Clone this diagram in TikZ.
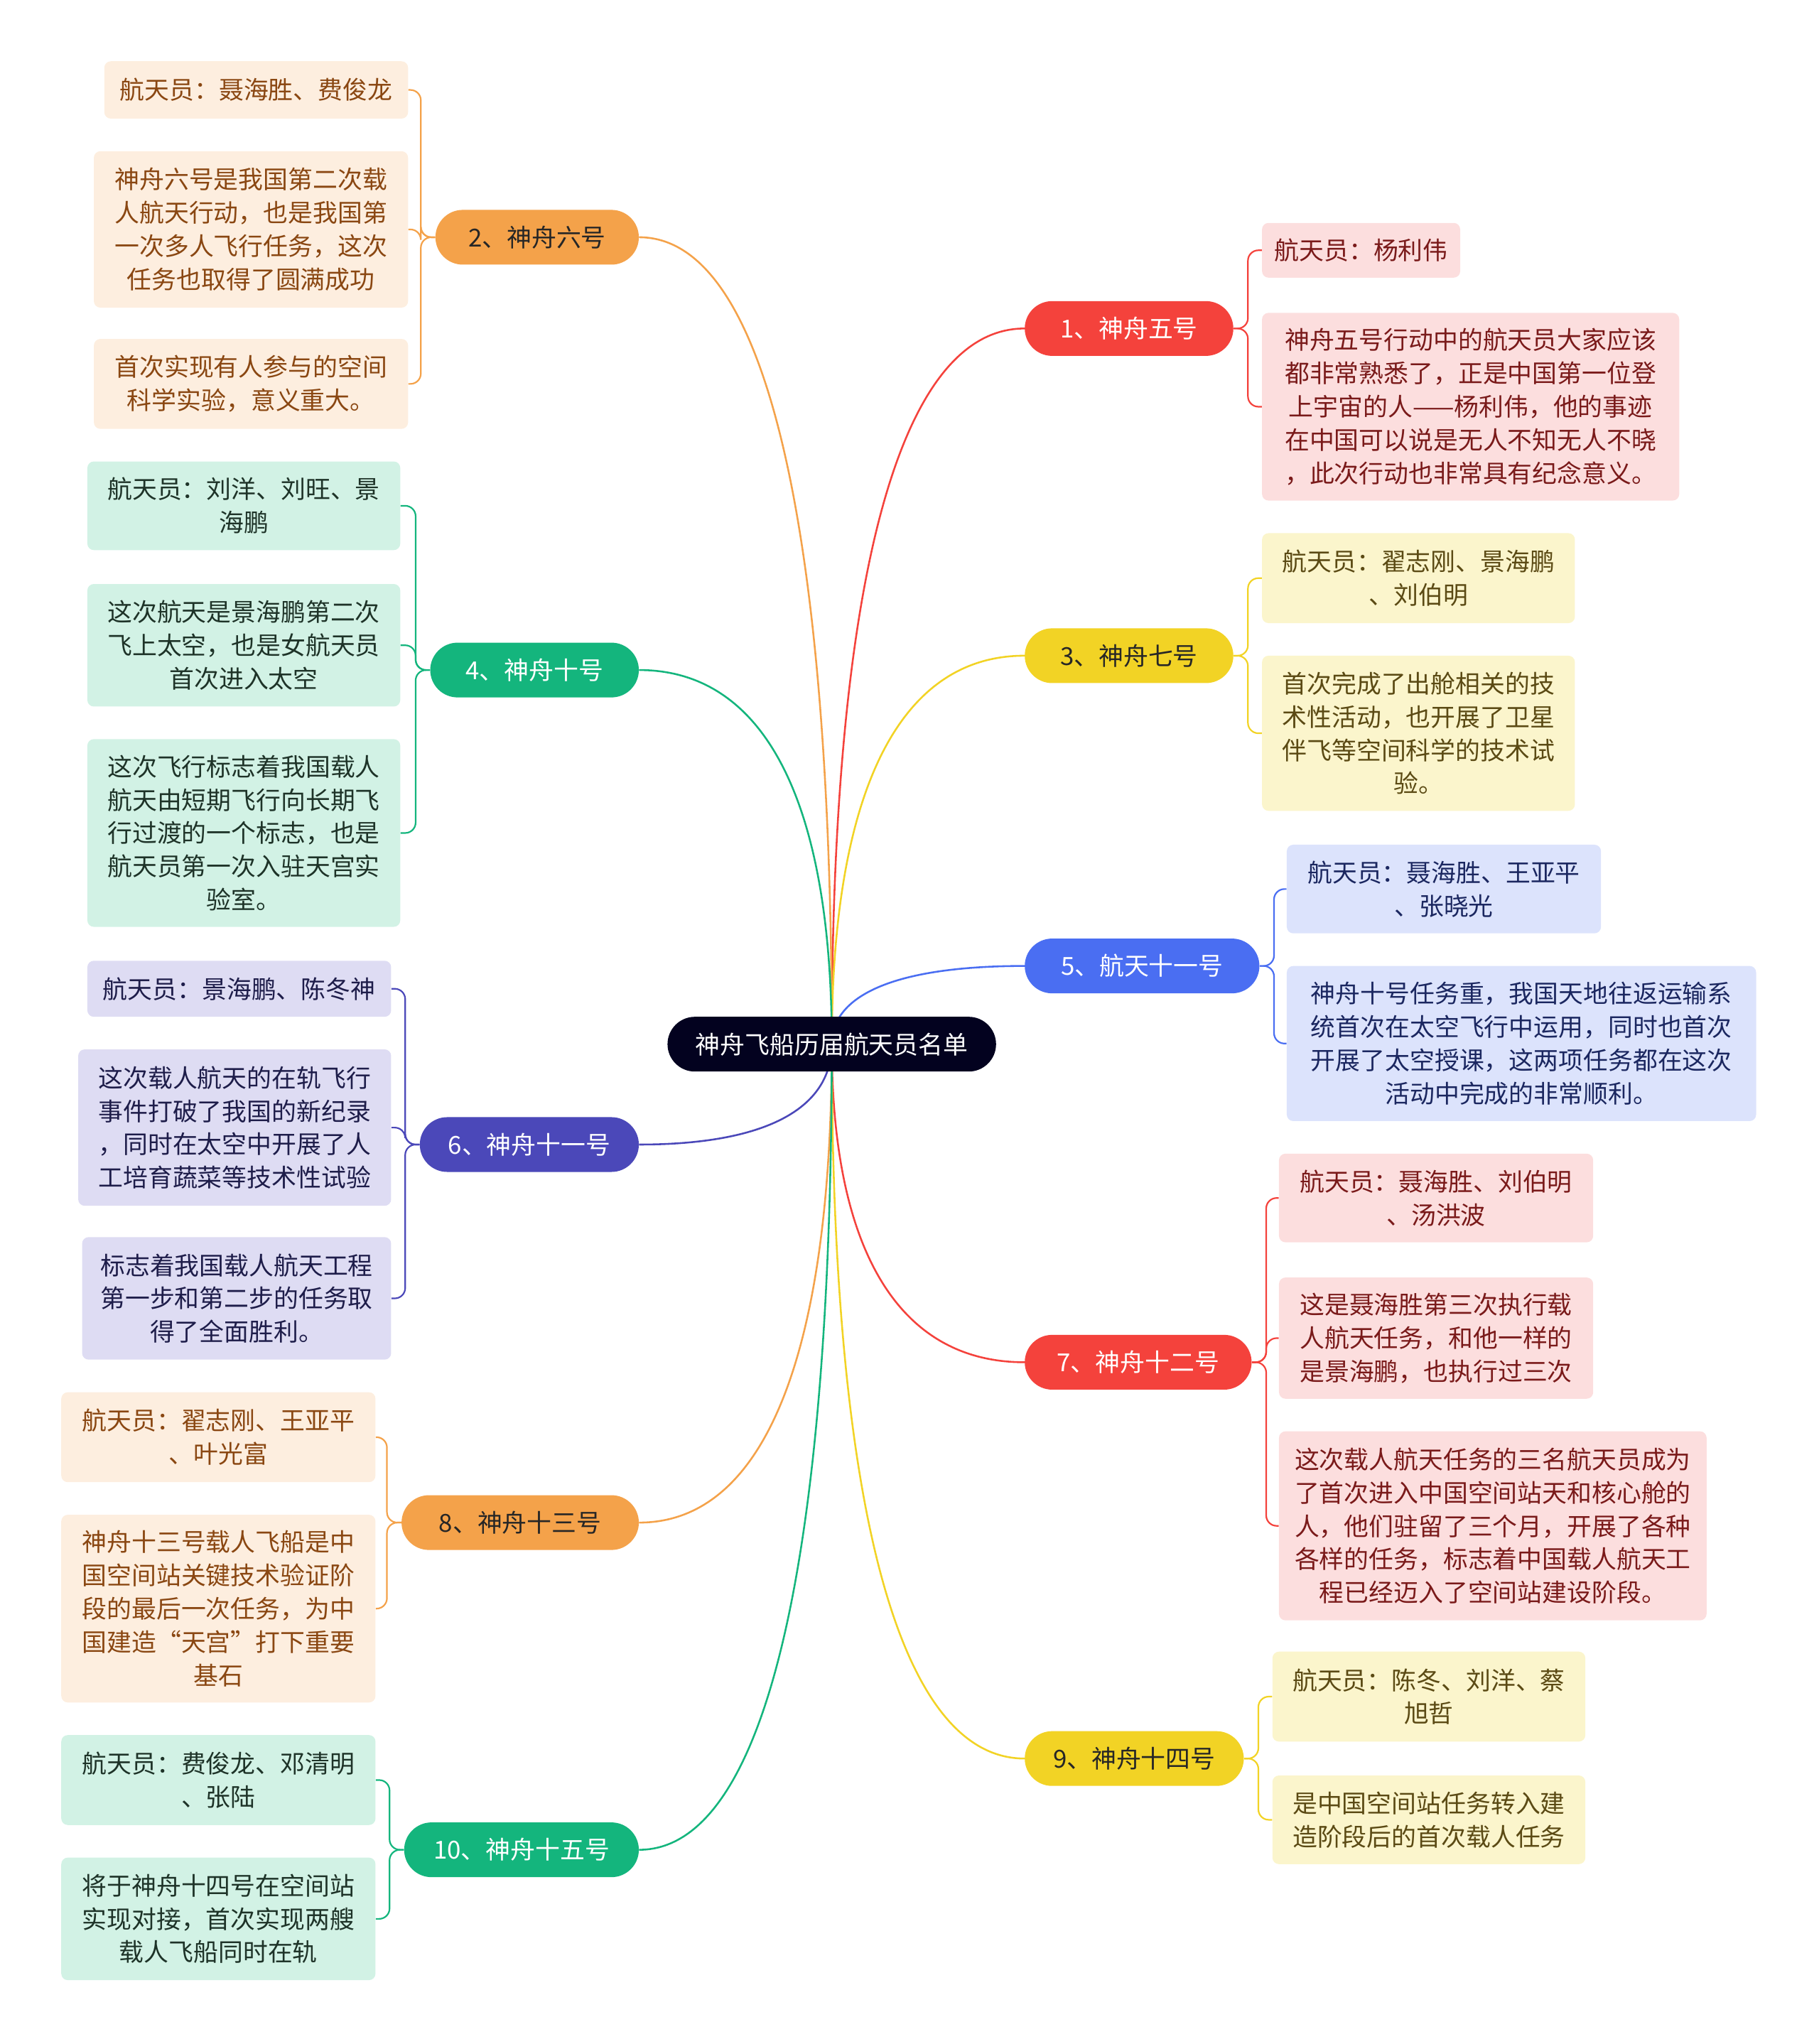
\documentclass[tikz,border=0pt]{standalone}
\usepackage{fontspec}
\setmainfont{Noto Sans CJK SC}
\usetikzlibrary{calc}
\usetikzlibrary{backgrounds}

\definecolor{croot}{HTML}{03021F}
\definecolor{cred}{HTML}{F4423C}
\definecolor{corange}{HTML}{F4A24A}
\definecolor{cgreen}{HTML}{14B57D}
\definecolor{cyellow}{HTML}{F2D325}
\definecolor{cblue}{HTML}{4A6EF2}
\definecolor{cindigo}{HTML}{4B48B9}
\definecolor{cdark}{HTML}{262626}

\begin{document}
\begin{tikzpicture}
[x=1pt,y=-1pt,%
  every node/.style={inner sep=0pt,font=\fontsize{19}{25.5}\selectfont},%
  main/.style={rounded corners=21pt,minimum height=42pt},%
  leaf/.style={rounded corners=5pt,align=center},%
  redleaf/.style={leaf,fill={rgb,255:red,252;green,222;blue,222},text={rgb,255:red,122;green,26;blue,26}},%
  orangeleaf/.style={leaf,fill={rgb,255:red,253;green,238;blue,223},text={rgb,255:red,138;green,71;blue,18}},%
  greenleaf/.style={leaf,fill={rgb,255:red,210;green,242;blue,229},text={rgb,255:red,30;green,51;blue,40}},%
  yellowleaf/.style={leaf,fill={rgb,255:red,251;green,245;blue,204},text={rgb,255:red,91;green,74;blue,20}},%
  blueleaf/.style={leaf,fill={rgb,255:red,220;green,227;blue,252},text={rgb,255:red,27;green,39;blue,96}},%
  indigoleaf/.style={leaf,fill={rgb,255:red,222;green,220;blue,243},text={rgb,255:red,30;green,29;blue,74}},%
  branch/.style={line width=1.4pt,to path={.. controls ($(\tikztostart)!0.65!(\tikztostart |- \tikztotarget)$) and ($(\tikztostart |- \tikztotarget)!0.35!(\tikztotarget)$) .. (\tikztotarget)}},%
  twig/.style={line width=1.2pt,rounded corners=8pt,to path={-- ([xshift=#1]\tikztostart) |- (\tikztotarget)}}]
\useasboundingbox (0,0) rectangle (1395,1568);

\node[main,fill=croot,text=white,minimum width=252pt] (root) at (638,801) {神舟飞船历届航天员名单};

\node[main,fill=cred,text=white,minimum width=160pt] (m1) at (866,252) {1、神舟五号};
\node[main,fill=corange,text=cdark,minimum width=156pt] (m2) at (412,182) {2、神舟六号};
\node[main,fill=cyellow,text=cdark,minimum width=160pt] (m3) at (866,503) {3、神舟七号};
\node[main,fill=cgreen,text=white,minimum width=160pt] (m4) at (410,514) {4、神舟十号};
\node[main,fill=cblue,text=white,minimum width=180pt] (m5) at (876,741) {5、航天十一号};
\node[main,fill=cindigo,text=white,minimum width=168pt] (m6) at (406,878) {6、神舟十一号};
\node[main,fill=cred,text=white,minimum width=174pt] (m7) at (873,1045) {7、神舟十二号};
\node[main,fill=corange,text=cdark,minimum width=182pt] (m8) at (399,1168) {8、神舟十三号};
\node[main,fill=cyellow,text=cdark,minimum width=168pt] (m9) at (870,1349) {9、神舟十四号};
\node[main,fill=cgreen,text=white,minimum width=180pt] (m10) at (400,1419) {10、神舟十五号};

\node[redleaf,minimum width=152pt,minimum height=42pt] (l1a) at (1044,192) {航天员：杨利伟};
\node[redleaf,minimum width=320pt,minimum height=144pt] (l1b) at (1128,312)
  {神舟五号行动中的航天员大家应该\\都非常熟悉了，正是中国第一位登\\上宇宙的人——杨利伟，他的事迹\\在中国可以说是无人不知无人不晓\\，此次行动也非常具有纪念意义。};

\node[orangeleaf,minimum width=233pt,minimum height=44pt] (l2a) at (196.5,69) {航天员：聂海胜、费俊龙};
\node[orangeleaf,minimum width=241pt,minimum height=120pt] (l2b) at (192.5,176)
  {神舟六号是我国第二次载\\人航天行动，也是我国第\\一次多人飞行任务，这次\\任务也取得了圆满成功};
\node[orangeleaf,minimum width=241pt,minimum height=69pt] (l2c) at (192.5,294.5)
  {首次实现有人参与的空间\\科学实验，意义重大。};

\node[yellowleaf,minimum width=240pt,minimum height=69pt] (l3a) at (1088,443.5) {航天员：翟志刚、景海鹏\\、刘伯明};
\node[yellowleaf,minimum width=240pt,minimum height=119pt] (l3b) at (1088,562.5)
  {首次完成了出舱相关的技\\术性活动，也开展了卫星\\伴飞等空间科学的技术试\\验。};

\node[greenleaf,minimum width=240pt,minimum height=68pt] (l4a) at (187,388) {航天员：刘洋、刘旺、景\\海鹏};
\node[greenleaf,minimum width=240pt,minimum height=94pt] (l4b) at (187,495)
  {这次航天是景海鹏第二次\\飞上太空，也是女航天员\\首次进入太空};
\node[greenleaf,minimum width=240pt,minimum height=144pt] (l4c) at (187,639)
  {这次飞行标志着我国载人\\航天由短期飞行向长期飞\\行过渡的一个标志，也是\\航天员第一次入驻天宫实\\验室。};

\node[blueleaf,minimum width=241pt,minimum height=68pt] (l5a) at (1107.5,682) {航天员：聂海胜、王亚平\\、张晓光};
\node[blueleaf,minimum width=360pt,minimum height=119pt] (l5b) at (1167,800.5)
  {神舟十号任务重，我国天地往返运输系\\统首次在太空飞行中运用，同时也首次\\开展了太空授课，这两项任务都在这次\\活动中完成的非常顺利。};

\node[indigoleaf,minimum width=233pt,minimum height=43pt] (l6a) at (183.5,758.5) {航天员：景海鹏、陈冬神};
\node[indigoleaf,minimum width=240pt,minimum height=120pt] (l6b) at (180,865)
  {这次载人航天的在轨飞行\\事件打破了我国的新纪录\\，同时在太空中开展了人\\工培育蔬菜等技术性试验};
\node[indigoleaf,minimum width=237pt,minimum height=94pt] (l6c) at (181.5,996)
  {标志着我国载人航天工程\\第一步和第二步的任务取\\得了全面胜利。};

\node[redleaf,minimum width=241pt,minimum height=68pt] (l7a) at (1101.5,919) {航天员：聂海胜、刘伯明\\、汤洪波};
\node[redleaf,minimum width=241pt,minimum height=93pt] (l7b) at (1101.5,1026.5)
  {这是聂海胜第三次执行载\\人航天任务，和他一样的\\是景海鹏，也执行过三次};
\node[redleaf,minimum width=328pt,minimum height=145pt] (l7c) at (1145,1170.5)
  {这次载人航天任务的三名航天员成为\\了首次进入中国空间站天和核心舱的\\人，他们驻留了三个月，开展了各种\\各样的任务，标志着中国载人航天工\\程已经迈入了空间站建设阶段。};

\node[orangeleaf,minimum width=241pt,minimum height=69pt] (l8a) at (167.5,1102.5) {航天员：翟志刚、王亚平\\、叶光富};
\node[orangeleaf,minimum width=241pt,minimum height=144pt] (l8b) at (167.5,1234)
  {神舟十三号载人飞船是中\\国空间站关键技术验证阶\\段的最后一次任务，为中\\国建造“天宫”打下重要\\基石};

\node[yellowleaf,minimum width=240pt,minimum height=69pt] (l9a) at (1096,1301.5) {航天员：陈冬、刘洋、蔡\\旭哲};
\node[yellowleaf,minimum width=240pt,minimum height=68pt] (l9b) at (1096,1396)
  {是中国空间站任务转入建\\造阶段后的首次载人任务};

\node[greenleaf,minimum width=241pt,minimum height=69pt] (l10a) at (167.5,1365.5) {航天员：费俊龙、邓清明\\、张陆};
\node[greenleaf,minimum width=241pt,minimum height=94pt] (l10b) at (167.5,1472)
  {将于神舟十四号在空间站\\实现对接，首次实现两艘\\载人飞船同时在轨};

\begin{pgfonlayer}{background}
\path
(root.center) edge[branch,cred] (m1.west)
(root.center) edge[branch,corange] (m2.east)
(root.center) edge[branch,cyellow] (m3.west)
(root.center) edge[branch,cgreen] (m4.east)
(root.center) edge[branch,cblue] (m5.west)
(root.center) edge[branch,cindigo] (m6.east)
(root.center) edge[branch,cred] (m7.west)
(root.center) edge[branch,corange] (m8.east)
(root.center) edge[branch,cyellow] (m9.west)
(root.center) edge[branch,cgreen] (m10.east);
\path
(m1.east) edge[twig=11pt,cred] (l1a.west) edge[twig=11pt,cred] (l1b.west)
(m2.west) edge[twig=-11pt,corange] (l2a.east) edge[twig=-11pt,corange] (l2b.east) edge[twig=-11pt,corange] (l2c.east)
(m3.east) edge[twig=11pt,cyellow] (l3a.west) edge[twig=11pt,cyellow] (l3b.west)
(m4.west) edge[twig=-11pt,cgreen] (l4a.east) edge[twig=-11pt,cgreen] (l4b.east) edge[twig=-11pt,cgreen] (l4c.east)
(m5.east) edge[twig=11pt,cblue] (l5a.west) edge[twig=11pt,cblue] (l5b.west)
(m6.west) edge[twig=-11pt,cindigo] (l6a.east) edge[twig=-11pt,cindigo] (l6b.east) edge[twig=-11pt,cindigo] (l6c.east)
(m7.east) edge[twig=11pt,cred] (l7a.west) edge[twig=11pt,cred] (l7b.west) edge[twig=11pt,cred] (l7c.west)
(m8.west) edge[twig=-11pt,corange] (l8a.east) edge[twig=-11pt,corange] (l8b.east)
(m9.east) edge[twig=11pt,cyellow] (l9a.west) edge[twig=11pt,cyellow] (l9b.west)
(m10.west) edge[twig=-11pt,cgreen] (l10a.east) edge[twig=-11pt,cgreen] (l10b.east);
\end{pgfonlayer}
\end{tikzpicture}
\end{document}
